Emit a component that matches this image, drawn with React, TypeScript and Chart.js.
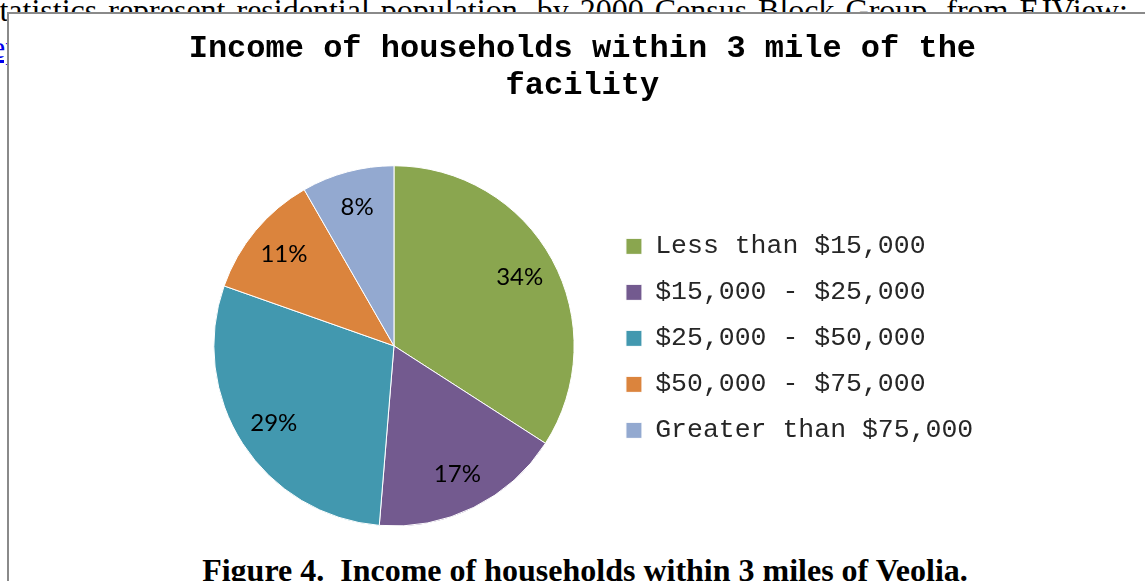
import React, { useEffect, useRef } from 'react';
import { Chart, registerables } from 'chart.js';

Chart.register(...registerables);

const categories = ['Less than $15,000', '$15,000 - $25,000', '$25,000 - $50,000', '$50,000 - $75,000', 'Greater than $75,000'];
const shares = [34.1, 17.2, 29.1, 11.3, 8.3];
const sliceColors = ['#8AA64F', '#735A8F', '#4298AF', '#DB843D', '#93A9D0'];
const titleLines = ['Income of households within 3 mile of the', 'facility'];
const docLine = 'statistics represent residential population, by 2000 Census Block Group, from EJView:';
const captionText = 'Figure 4.  Income of households within 3 miles of Veolia.';

const pctLabels = {
  id: 'pctLabels',
  afterDatasetsDraw(chart: any) {
    const meta = chart.getDatasetMeta(0);
    const data = chart.data.datasets[0].data as number[];
    const total = data.reduce((a, b) => a + b, 0);
    const ctx = chart.ctx;
    ctx.save();
    ctx.font = '24px Lato';
    ctx.fillStyle = '#000';
    ctx.textAlign = 'center';
    ctx.textBaseline = 'middle';
    meta.data.forEach((arc: any, i: number) => {
      const p = arc.getProps(['x', 'y', 'startAngle', 'endAngle', 'outerRadius'], true);
      const mid = (p.startAngle + p.endAngle) / 2;
      const r = p.outerRadius * 0.795;
      ctx.fillText(Math.round((data[i] / total) * 100) + '%', p.x + Math.cos(mid) * r, p.y + Math.sin(mid) * r);
    });
    ctx.restore();
  },
};

function PieChart() {
  const ref = useRef<HTMLCanvasElement | null>(null);
  useEffect(() => {
    if (!ref.current) return;
    const chart = new Chart(ref.current, {
      type: 'pie',
      data: {
        labels: categories,
        datasets: [
          {
            data: shares,
            backgroundColor: sliceColors,
            borderColor: '#ffffff',
            borderWidth: 1,
            hoverBorderWidth: 1,
          },
        ],
      },
      options: {
        responsive: false,
        animation: false,
        devicePixelRatio: 1,
        events: [],
        layout: { padding: { left: 170.5, right: 163.75, top: 0, bottom: 17.5 } },
        plugins: {
          tooltip: { enabled: false },
          title: {
            display: true,
            text: titleLines,
            color: '#000',
            font: { family: '"Liberation Mono", "Courier New", monospace', size: 32, weight: 'bold', lineHeight: 1.16 },
            padding: { top: 16, bottom: 61 },
          },
          legend: {
            display: true,
            position: 'right',
            align: 'center',
            fullSize: false,
            title: { display: true, text: '', padding: { top: -8, bottom: -8 }, font: { size: 1, lineHeight: 1 } },
            labels: {
              boxWidth: 16,
              boxHeight: 16,
              padding: 19.5,
              color: '#262626',
              font: { family: '"Liberation Mono", "Courier New", monospace', size: 26.5 },
            },
          },
        },
      },
      plugins: [pctLabels],
    } as any);
    return () => chart.destroy();
  }, []);
  return <canvas ref={ref} width={1136} height={530} style={{ position: 'absolute', left: 2, top: 0, width: 1136, height: 530 }} />;
}

export default function App() {
  return (
    <div style={{ position: 'fixed', left: 0, top: 0, width: 1145, height: 581, overflow: 'hidden', background: '#fff' }}>
      <div
        style={{
          position: 'absolute',
          left: -13,
          top: -5.8,
          font: '32px "Liberation Serif", "Times New Roman", serif',
          lineHeight: '32px',
          wordSpacing: 3,
          whiteSpace: 'nowrap',
          color: '#000',
        }}
      >
        {docLine}
      </div>
      <div
        style={{
          position: 'absolute',
          left: -9,
          top: 31,
          font: '32px "Liberation Serif", "Times New Roman", serif',
          lineHeight: '32px',
          whiteSpace: 'nowrap',
          color: '#0000EE',
          textDecoration: 'underline',
        }}
      >
        ep
      </div>
      <div
        style={{
          position: 'absolute',
          left: 7,
          top: 12,
          width: 1200,
          height: 700,
          border: '2px solid #8a8a8a',
          boxSizing: 'border-box',
          background: '#fff',
        }}
      >
        <PieChart />
        <div
          style={{
            position: 'absolute',
            left: 0,
            top: 539.5,
            width: 1152,
            textAlign: 'center',
            font: 'bold 32px "Liberation Serif", "Times New Roman", serif',
            lineHeight: '32px',
            whiteSpace: 'pre',
            color: '#000',
          }}
        >
          {captionText}
        </div>
      </div>
    </div>
  );
}
